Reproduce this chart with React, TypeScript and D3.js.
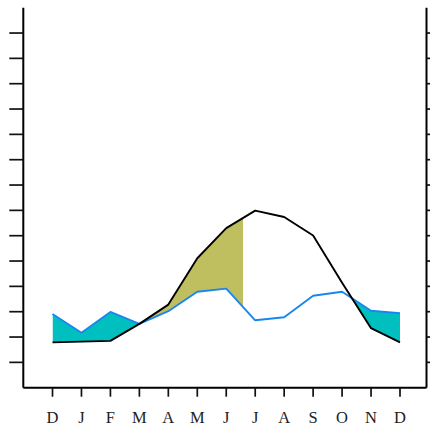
import React from "react";
import * as d3 from "d3";

const months = ["D", "J", "F", "M", "A", "M", "J", "J", "A", "S", "O", "N", "D"];
const temperature = [17.9, 18.2, 18.5, 25.2, 32.8, 51.1, 63.0, 69.9, 67.4, 60.1, 41.4, 23.5, 17.9];
const precipitation = [29.1, 21.7, 29.9, 25.2, 30.2, 37.9, 39.1, 26.6, 27.8, 36.3, 37.9, 30.4, 29.4];
const yTicks = [10, 20, 30, 40, 50, 60, 70, 80, 90, 100, 110, 120, 130, 140];
const yDomain = [0, 150];
const aridCutoff = 6.58;

const W = 430;
const H = 425;
const frame = { left: 23.3, right: 426.5, top: 7.7, bottom: 387.7 };

export default function App() {
  const idx = months.map((_, i) => i);
  const x = d3.scaleLinear().domain([0, 12]).range([52.5, 400]);
  const y = d3.scaleLinear().domain(yDomain).range([frame.bottom, frame.top]);

  const between = d3
    .area<number>()
    .x((i) => x(i))
    .y0((i) => y(temperature[i]))
    .y1((i) => y(precipitation[i]))(idx) as string;

  const tempLine = d3
    .line<number>()
    .x((i) => x(i))
    .y((i) => y(temperature[i]))(idx) as string;
  const precLine = d3
    .line<number>()
    .x((i) => x(i))
    .y((i) => y(precipitation[i]))(idx) as string;

  const aboveTemp = d3
    .area<number>()
    .x((i) => x(i))
    .y0(frame.top - 10)
    .y1((i) => y(temperature[i]))(idx) as string;
  const belowTemp = d3
    .area<number>()
    .x((i) => x(i))
    .y0(frame.bottom + 10)
    .y1((i) => y(temperature[i]))(idx) as string;

  const cutX = x(aridCutoff);

  return (
    <svg
      width={W}
      height={H}
      style={{ position: "absolute", left: 0, top: 0, display: "block", background: "#fff" }}
    >
      <defs>
        <clipPath id="clipAbove">
          <path d={aboveTemp} />
        </clipPath>
        <clipPath id="clipBelow">
          <path d={belowTemp} />
        </clipPath>
        <clipPath id="clipCut">
          <rect x={0} y={0} width={cutX} height={H} />
        </clipPath>
      </defs>

      <path d={between} fill="#00bfbf" clipPath="url(#clipAbove)" />
      <g clipPath="url(#clipCut)">
        <path d={between} fill="#bfbf60" clipPath="url(#clipBelow)" />
      </g>

      <path d={precLine} fill="none" stroke="#1a86f0" strokeWidth={1.9} strokeLinejoin="round" />
      <path d={tempLine} fill="none" stroke="#000" strokeWidth={1.9} strokeLinejoin="round" />

      <line x1={frame.left} x2={frame.left} y1={frame.top} y2={frame.bottom} stroke="#000" strokeWidth={2} />
      <line x1={frame.right} x2={frame.right} y1={frame.top} y2={frame.bottom} stroke="#000" strokeWidth={2} />
      <line x1={frame.left} x2={frame.right} y1={frame.bottom} y2={frame.bottom} stroke="#000" strokeWidth={2} />

      {yTicks.map((t) => (
        <g key={t}>
          <line x1={frame.left - 14} x2={frame.left} y1={y(t)} y2={y(t)} stroke="#111" strokeWidth={1.7} />
          <line x1={frame.right} x2={frame.right + 14} y1={y(t)} y2={y(t)} stroke="#111" strokeWidth={1.7} />
        </g>
      ))}

      {months.map((m, i) => (
        <g key={i}>
          <line x1={x(i)} x2={x(i)} y1={frame.bottom} y2={frame.bottom + 9} stroke="#111" strokeWidth={1.7} />
          <text
            x={x(i)}
            y={422.5}
            textAnchor="middle"
            fontFamily="'Liberation Serif', serif"
            fontSize={16.5}
            fill="#222"
          >
            {m}
          </text>
        </g>
      ))}
    </svg>
  );
}
